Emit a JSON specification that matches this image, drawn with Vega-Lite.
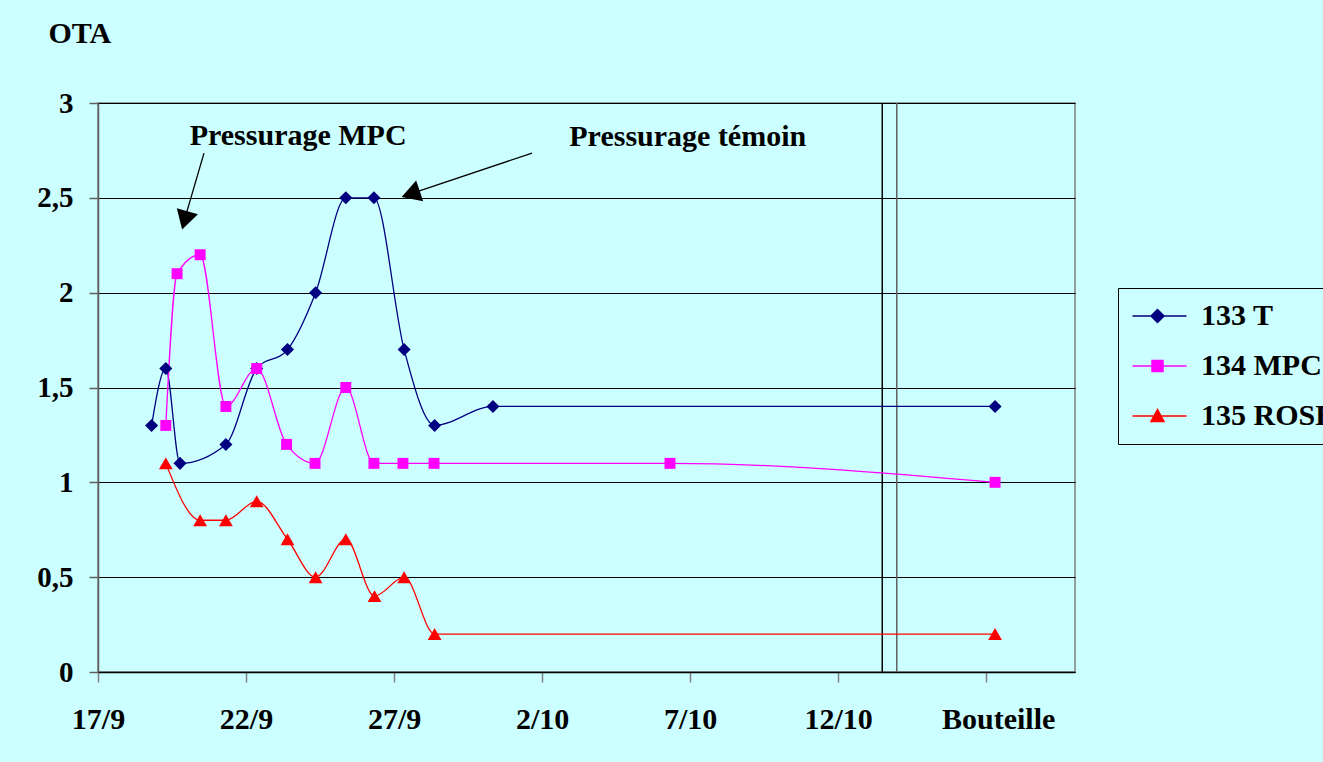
{
  "$schema": "https://vega.github.io/schema/vega-lite/v6.json",
  "width": 977,
  "height": 569,
  "autosize": {"type": "none"},
  "padding": {"left": 98, "top": 103, "right": 248, "bottom": 90},
  "background": "#CCFFFF",
  "config": {
    "view": {"stroke": "#808080", "strokeWidth": 1.5},
    "font": "Liberation Serif"
  },
  "datasets": {
    "series": [
      {"series": "133 T", "day": 1.81, "ota": 1.3},
      {"series": "133 T", "day": 2.29, "ota": 1.6},
      {"series": "133 T", "day": 2.77, "ota": 1.1},
      {"series": "133 T", "day": 4.32, "ota": 1.2},
      {"series": "133 T", "day": 5.36, "ota": 1.6},
      {"series": "133 T", "day": 6.40, "ota": 1.7},
      {"series": "133 T", "day": 7.35, "ota": 2.0},
      {"series": "133 T", "day": 8.37, "ota": 2.5},
      {"series": "133 T", "day": 9.32, "ota": 2.5},
      {"series": "133 T", "day": 10.34, "ota": 1.7},
      {"series": "133 T", "day": 11.37, "ota": 1.3},
      {"series": "133 T", "day": 13.34, "ota": 1.4},
      {"series": "133 T", "day": 30.30, "ota": 1.4},
      {"series": "134 MPC", "day": 2.29, "ota": 1.3},
      {"series": "134 MPC", "day": 2.67, "ota": 2.1},
      {"series": "134 MPC", "day": 3.45, "ota": 2.2},
      {"series": "134 MPC", "day": 4.32, "ota": 1.4},
      {"series": "134 MPC", "day": 5.36, "ota": 1.6},
      {"series": "134 MPC", "day": 6.37, "ota": 1.2},
      {"series": "134 MPC", "day": 7.33, "ota": 1.1},
      {"series": "134 MPC", "day": 8.37, "ota": 1.5},
      {"series": "134 MPC", "day": 9.32, "ota": 1.1},
      {"series": "134 MPC", "day": 10.30, "ota": 1.1},
      {"series": "134 MPC", "day": 11.35, "ota": 1.1},
      {"series": "134 MPC", "day": 19.32, "ota": 1.1},
      {"series": "134 MPC", "day": 30.30, "ota": 1.0},
      {"series": "135 ROSE", "day": 2.29, "ota": 1.1},
      {"series": "135 ROSE", "day": 3.45, "ota": 0.8},
      {"series": "135 ROSE", "day": 4.32, "ota": 0.8},
      {"series": "135 ROSE", "day": 5.36, "ota": 0.9},
      {"series": "135 ROSE", "day": 6.40, "ota": 0.7},
      {"series": "135 ROSE", "day": 7.35, "ota": 0.5},
      {"series": "135 ROSE", "day": 8.37, "ota": 0.7},
      {"series": "135 ROSE", "day": 9.34, "ota": 0.4},
      {"series": "135 ROSE", "day": 10.34, "ota": 0.5},
      {"series": "135 ROSE", "day": 11.37, "ota": 0.2},
      {"series": "135 ROSE", "day": 30.30, "ota": 0.2}
    ],
    "labels": [
      {"label": "Pressurage MPC", "day": 6.76, "ota": 2.779},
      {"label": "Pressurage témoin", "day": 19.92, "ota": 2.773}
    ],
    "arrows": [
      {"x1": 3.58, "y1": 2.736, "x2": 2.97, "y2": 2.41, "hx": 2.93, "hy": 2.381, "angle": 196},
      {"x1": 14.66, "y1": 2.736, "x2": 10.63, "y2": 2.525, "hx": 10.56, "hy": 2.521, "angle": 251.4}
    ],
    "separators": [
      {"day": 26.49, "kind": "a"},
      {"day": 26.98, "kind": "b"}
    ]
  },
  "layer": [
    {
      "data": {"name": "series"},
      "transform": [{"filter": "false"}],
      "mark": {"type": "point", "filled": true, "opacity": 1},
      "encoding": {
        "x": {
          "field": "day", "type": "quantitative",
          "scale": {"domain": [0, 33], "nice": false, "zero": false},
          "axis": {
            "values": [0, 5, 10, 15, 20, 25, 30],
            "labelExpr": "datum.value == 0 ? '17/9' : datum.value == 5 ? '22/9' : datum.value == 10 ? '27/9' : datum.value == 15 ? '2/10' : datum.value == 20 ? '7/10' : datum.value == 25 ? '12/10' : 'Bouteille'",
            "labelOffset": {"condition": {"test": "datum.value == 30", "value": 12}, "value": 0},
            "title": null,
            "grid": false,
            "domainColor": "#000000",
            "domainWidth": 1.5,
            "tickColor": "#808080",
            "tickWidth": 1.5,
            "tickSize": 10,
            "labelFont": "Liberation Serif",
            "labelFontWeight": "bold",
            "labelFontSize": 30,
            "labelColor": "#000000",
            "labelPadding": 22,
            "labelFlush": false,
            "labelOverlap": false
          }
        },
        "y": {
          "field": "ota", "type": "quantitative",
          "scale": {"domain": [0, 3], "nice": false},
          "axis": {
            "values": [0, 0.5, 1, 1.5, 2, 2.5, 3],
            "labelExpr": "replace(format(datum.value, '.1~f'), '.', ',')",
            "title": "OTA",
            "titleAngle": 0,
            "titleAlign": "left",
            "titleBaseline": "alphabetic",
            "titleX": -50,
            "titleY": -61,
            "titleFont": "Liberation Serif",
            "titleFontWeight": "bold",
            "titleFontSize": 30,
            "titleColor": "#000000",
            "grid": true,
            "gridColor": "#000000",
            "gridWidth": 1.2,
            "domainColor": "#606060",
            "domainWidth": 1.5,
            "tickColor": "#606060",
            "tickWidth": 1.5,
            "tickSize": 9,
            "labelFont": "Liberation Serif",
            "labelFontWeight": "bold",
            "labelFontSize": 29,
            "labelColor": "#000000",
            "labelPadding": 16,
            "labelFlush": false,
            "labelOverlap": false
          }
        },
        "fill": {
          "field": "series", "type": "nominal",
          "scale": {"domain": ["133 T", "134 MPC", "135 ROSE"], "range": ["#000080", "#FF00FF", "#FF0000"]},
          "legend": {
            "orient": "none",
            "legendX": 1020,
            "legendY": 185,
            "title": null,
            "padding": 13,
            "strokeColor": "#000000",
            "fillColor": "#CCFFFF",
            "symbolSize": 400,
            "symbolStrokeWidth": 1.5,
            "symbolOpacity": 1,
            "labelFont": "Liberation Serif",
            "labelFontWeight": "bold",
            "labelFontSize": 30,
            "labelColor": "#000000",
            "labelOffset": 40,
            "labelLimit": 300,
            "rowPadding": 20
          }
        },
        "stroke": {
          "field": "series", "type": "nominal",
          "scale": {"domain": ["133 T", "134 MPC", "135 ROSE"], "range": ["#000080", "#FF00FF", "#FF0000"]}
        },
        "shape": {
          "field": "series", "type": "nominal",
          "scale": {"domain": ["133 T", "134 MPC", "135 ROSE"], "range": [
            "M-1.35,0H4.05M0.5,0L1.15,-0.65L1.8,0L1.15,0.65Z",
            "M-1.35,0H4.05M0.6,-0.55H1.7V0.55H0.6Z",
            "M-1.35,0H4.05M1.15,-0.65L1.8,0.55L0.5,0.55Z"
          ]}
        }
      }
    },
    {
      "data": {"name": "separators"},
      "transform": [{"filter": "datum.kind == 'a'"}],
      "mark": {"type": "rule", "strokeWidth": 1.5, "color": "#000000"},
      "encoding": {"x": {"field": "day", "type": "quantitative"}}
    },
    {
      "data": {"name": "separators"},
      "transform": [{"filter": "datum.kind == 'b'"}],
      "mark": {"type": "rule", "strokeWidth": 1.5, "color": "#606060"},
      "encoding": {"x": {"field": "day", "type": "quantitative"}}
    },
    {
      "data": {"name": "series"},
      "transform": [{"filter": "datum.series == '133 T'"}],
      "mark": {"type": "line", "interpolate": "monotone", "color": "#000080", "strokeWidth": 1.3},
      "encoding": {"x": {"field": "day", "type": "quantitative"}, "y": {"field": "ota", "type": "quantitative"}}
    },
    {
      "data": {"name": "series"},
      "transform": [{"filter": "datum.series == '134 MPC'"}],
      "mark": {"type": "line", "interpolate": "monotone", "color": "#FF00FF", "strokeWidth": 1.3},
      "encoding": {"x": {"field": "day", "type": "quantitative"}, "y": {"field": "ota", "type": "quantitative"}}
    },
    {
      "data": {"name": "series"},
      "transform": [{"filter": "datum.series == '135 ROSE'"}],
      "mark": {"type": "line", "interpolate": "monotone", "color": "#FF0000", "strokeWidth": 1.3},
      "encoding": {"x": {"field": "day", "type": "quantitative"}, "y": {"field": "ota", "type": "quantitative"}}
    },
    {
      "data": {"name": "series"},
      "transform": [{"filter": "datum.series == '133 T'"}],
      "mark": {"type": "point", "shape": "diamond", "filled": true, "color": "#000080", "size": 170, "opacity": 1},
      "encoding": {"x": {"field": "day", "type": "quantitative"}, "y": {"field": "ota", "type": "quantitative"}}
    },
    {
      "data": {"name": "series"},
      "transform": [{"filter": "datum.series == '134 MPC'"}],
      "mark": {"type": "point", "shape": "square", "filled": true, "color": "#FF00FF", "size": 120, "opacity": 1},
      "encoding": {"x": {"field": "day", "type": "quantitative"}, "y": {"field": "ota", "type": "quantitative"}}
    },
    {
      "data": {"name": "series"},
      "transform": [{"filter": "datum.series == '135 ROSE'"}],
      "mark": {"type": "point", "shape": "triangle-up", "filled": true, "color": "#FF0000", "size": 190, "opacity": 1},
      "encoding": {"x": {"field": "day", "type": "quantitative"}, "y": {"field": "ota", "type": "quantitative"}}
    },
    {
      "data": {"name": "labels"},
      "mark": {"type": "text", "align": "center", "baseline": "alphabetic", "font": "Liberation Serif", "fontWeight": "bold", "fontSize": 30, "color": "#000000"},
      "encoding": {
        "x": {"field": "day", "type": "quantitative"},
        "y": {"field": "ota", "type": "quantitative"},
        "text": {"field": "label"}
      }
    },
    {
      "data": {"name": "arrows"},
      "mark": {"type": "rule", "color": "#000000", "strokeWidth": 1.3},
      "encoding": {
        "x": {"field": "x1", "type": "quantitative"},
        "y": {"field": "y1", "type": "quantitative"},
        "x2": {"field": "x2"},
        "y2": {"field": "y2"}
      }
    },
    {
      "data": {"name": "arrows"},
      "mark": {"type": "point", "shape": "triangle-up", "filled": true, "color": "#000000", "size": 484, "opacity": 1},
      "encoding": {
        "x": {"field": "hx", "type": "quantitative"},
        "y": {"field": "hy", "type": "quantitative"},
        "angle": {"field": "angle", "type": "quantitative", "scale": null}
      }
    }
  ]
}
